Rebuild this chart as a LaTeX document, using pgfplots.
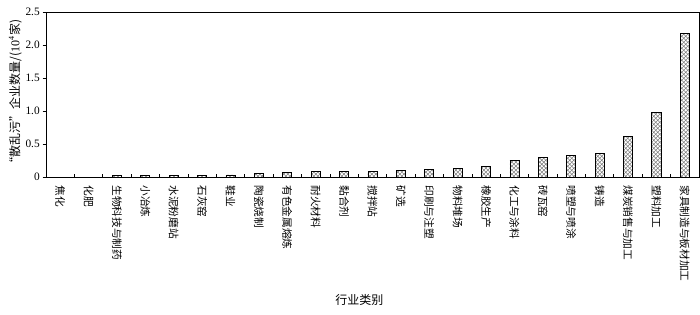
\documentclass[border=0pt]{standalone}
\usepackage{fontspec}
\setmainfont{Liberation Serif}
\newfontfamily\cjk{Noto Sans CJK SC}
\usepackage{pgfplots}
\pgfplotsset{compat=1.18}
\usetikzlibrary{patterns}
\begin{document}
\begin{tikzpicture}
\begin{axis}[
  name=ax,
  scale only axis, width=490pt, height=124pt,
  xmin=-0.5, xmax=22.5, ymin=0, ymax=2.5,
  ybar, bar width=6.8pt,
  xtick={0,...,22},
  xticklabels={焦化,化肥,生物科技与制药,小冶炼,水泥粉磨站,石灰窑,鞋业,陶瓷烧制,有色金属熔炼,耐火材料,黏合剂,搅拌站,矿选,印刷与注塑,物料堆场,橡胶生产,化工与涂料,砖瓦窑,喷塑与喷涂,铸造,煤炭销售与加工,塑料加工,家具制造与板材加工},
  major x tick style={draw=none},
  minor xtick={0.5,1.5,...,21.5},
  minor x tick style={black},
  minor tick length=2.5pt,
  xtick pos=bottom, ytick pos=left,
  xtick align=inside, ytick align=outside,
  major tick length=2.5pt,
  ytick={0,0.5,1,1.5,2,2.5},
  yticklabels={0,0.5,1.0,1.5,2.0,2.5},
  /pgf/number format/assume math mode=true,
  x tick label style={font=\cjk\fontsize{8}{9}\selectfont, rotate=-90, anchor=west, inner sep=1pt, xshift=5pt},
  y tick label style={font=\fontsize{8.5}{10}\selectfont, inner sep=2pt},
  xlabel={\cjk 行业类别},
  ylabel={{\cjk “散乱污”企业数量/(}10\textsuperscript{4}{\cjk 家)}},
  x label style={font=\fontsize{9}{10}\selectfont, at={(axis description cs:0.48,-0.742)}, anchor=center},
  y label style={font=\fontsize{9}{10}\selectfont, at={(axis description cs:-0.047,0.5)}, anchor=center},
  axis line style={black, line width=0.6pt},
  tick style={black, line width=0.5pt},
]
\addplot[draw=black, line width=0.6pt, pattern=crosshatch, pattern color=gray] coordinates {
(0,0) (1,0) (2,0.03) (3,0.03) (4,0.03) (5,0.03) (6,0.035) (7,0.06) (8,0.07) (9,0.085) (10,0.085) (11,0.085) (12,0.1) (13,0.12) (14,0.13) (15,0.165) (16,0.26) (17,0.30) (18,0.33) (19,0.36) (20,0.62) (21,0.985) (22,2.18)
};
\end{axis}
\pgfresetboundingbox
\path (ax.south west) +(-34.5pt,-102.75pt) (ax.north east) +(0.75pt,9pt);
\end{tikzpicture}
\end{document}
